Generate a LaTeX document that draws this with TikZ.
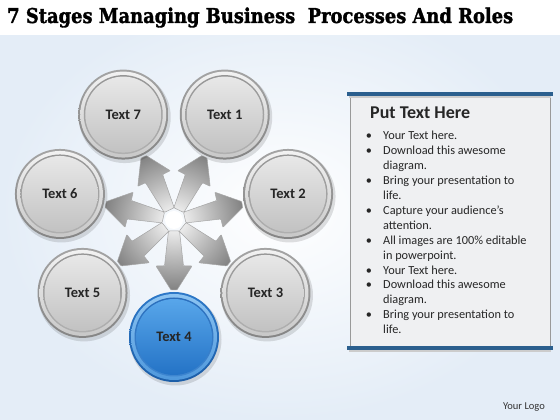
\documentclass[tikz,border=0pt]{standalone}
\usepackage{fontspec}
\usepackage{graphicx}
\setmainfont{Carlito}
\newfontfamily\titlefont{DejaVu Serif Bold}[FakeBold=1.6]
\definecolor{bgblue}{HTML}{E4EDF7}
\definecolor{barblue}{HTML}{2B5F8E}
\definecolor{panelgray}{HTML}{EFF0F2}
\definecolor{ringA}{HTML}{A4A4A4}
\definecolor{ringB}{HTML}{858585}
\definecolor{bandA}{HTML}{F2F2F2}
\definecolor{bandB}{HTML}{C8C8C8}
\definecolor{edgeA}{HTML}{959595}
\definecolor{edgeB}{HTML}{B0B0B0}
\definecolor{discA}{HTML}{E8E8E8}
\definecolor{discB}{HTML}{C2C2C2}
\definecolor{bringA}{HTML}{2D78C8}
\definecolor{bringB}{HTML}{1C5EA8}
\definecolor{bbandA}{HTML}{8CC4F2}
\definecolor{bbandB}{HTML}{4F98DC}
\definecolor{bedgeA}{HTML}{2A6EBC}
\definecolor{bedgeB}{HTML}{3E86D0}
\definecolor{bdiscA}{HTML}{58A6EA}
\definecolor{bdiscB}{HTML}{2473C6}
\newcommand\arrowsetpath{foreach \a in {270,321.43,12.86,64.29,115.71,167.14,218.57} { ([rotate=\a]11,-5.5) -- ([rotate=\a]46,-9.5) -- ([rotate=\a]46,-18) -- ([rotate=\a]70,-3) -- ([rotate=\a]70,3) -- ([rotate=\a]46,18) -- ([rotate=\a]46,9.5) -- ([rotate=\a]11,5.5) -- cycle }}
\begin{document}
\begin{tikzpicture}[x=1pt,y=1pt,
  lbl/.style={font=\bfseries\fontsize{14.5}{16}\selectfont, text=black!85, inner sep=0pt},
  txtline/.style={anchor=base west, inner sep=0pt, font=\fontsize{12.3}{14}\selectfont, text=black!85},
  bul/.style={anchor=base, inner sep=0pt, font=\fontsize{12.3}{14}\selectfont, text=black!85}]
\useasboundingbox (0,0) rectangle (560,420);
\shade[inner color=white, outer color=bgblue] (0,0) rectangle (560,420);
\fill[white] (0,385) rectangle (560,420);
% title
\node[anchor=base west, inner sep=0pt] (title) at (7,397) {\resizebox{506pt}{15.5pt}{\titlefont 7 Stages Managing Business\ \ Processes And Roles}};
% arrows
\begin{scope}[shift={(174,200)}]
  \begin{scope}
    \clip \arrowsetpath;
    \shade[inner color=white, outer color=black!52] (0,0) circle (74);
  \end{scope}
  \draw[black!35, line width=0.5, rounded corners=1] \arrowsetpath;
  \fill[white] (0,0) circle (9);
\end{scope}
% gray circles
\foreach \k/\a in {1/64.29,2/12.86,3/321.43,5/218.57,6/167.14,7/115.71}{
  \path (174,200) ++(\a:117) coordinate (c\k);
  \fill[black, opacity=0.12] ([shift={(1.5,-2.5)}]c\k) circle (46);
  \shade[top color=ringA, bottom color=ringB] (c\k) circle (45);
  \shade[top color=bandA, bottom color=bandB] (c\k) circle (43);
  \shade[top color=edgeA, bottom color=edgeB] (c\k) circle (39.5);
  \shade[top color=discA, bottom color=discB] (c\k) circle (38);
  \node[lbl] (t\k) at (c\k) {Text \k};
}
% blue circle
\path (174,200) ++(270:117) coordinate (c4);
\fill[black, opacity=0.12] ([shift={(1.5,-2.5)}]c4) circle (46);
\shade[top color=bringA, bottom color=bringB] (c4) circle (45);
\shade[top color=bbandA, bottom color=bbandB] (c4) circle (43);
\shade[top color=bedgeA, bottom color=bedgeB] (c4) circle (39.5);
\shade[top color=bdiscA, bottom color=bdiscB] (c4) circle (38);
\node[lbl] (t4) at (c4) {Text 4};
% panel
\fill[panelgray] (350,72) rectangle (550,326);
\draw[black!40, line width=0.8] (350,72) -- (350,326) (550,72) -- (550,326);
\draw[black!20, line width=2] (349,323) -- (551,323);
\draw[barblue, line width=3.5] (347,326) -- (553,326);
\draw[black!20, line width=2] (349,69) -- (551,69);
\draw[barblue, line width=3.5] (347,72) -- (553,72);
\node[anchor=base west, inner sep=0pt, font=\bfseries\fontsize{18}{20}\selectfont, text=black!85] (head) at (370,301) {Put Text Here};
\foreach \i/\t/\b in {1/Your Text here./1, 2/Download this awesome/1, 3/diagram./0, 4/Bring your presentation to/1, 5/life./0, 6/Capture your audience’s/1, 7/attention./0, 8/All images are 100\% editable/1, 9/in powerpoint./0, 10/Your Text here./1, 11/Download this awesome/1, 12/diagram./0, 13/Bring your presentation to/1, 14/life./0}{
  \pgfmathsetmacro\yy{284-14.9*(\i-1)-4}
  \node[txtline] (l\i) at (383,\yy) {\t};
  \ifnum\b=1 \node[bul] (b\i) at (369,\yy) {•}; \fi
}
\node[inner sep=0pt, font=\fontsize{10.5}{12}\selectfont, text=black!80] (logo) at (524,13) {Your Logo};
\end{tikzpicture}
\end{document}
